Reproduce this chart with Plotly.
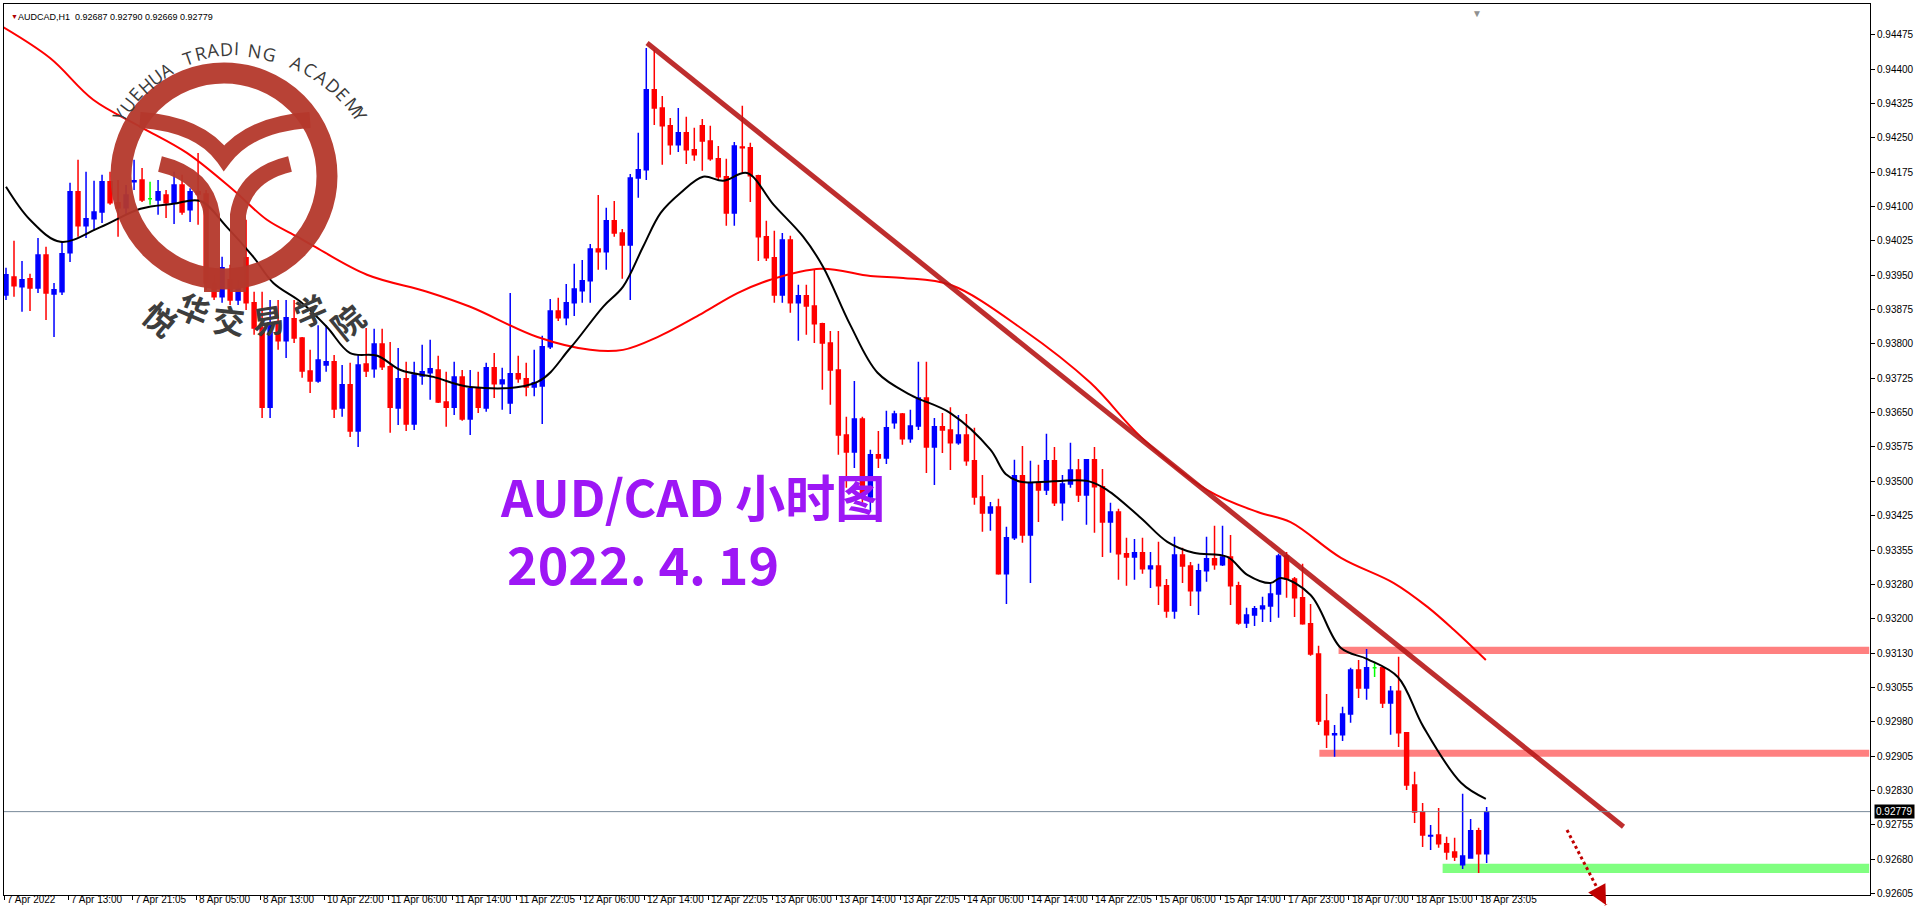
import math
import plotly.graph_objects as go

# AUDCAD H1 candles, prices in 1e-5 units
opens = [93907, 93946, 93925, 93942, 93922, 93994, 93909, 93914, 93999, 94132,
         94058, 94073, 94088, 94154, 94108, 94097, 94154, 94158, 94117, 94114,
         94125, 94108, 94147, 94093, 94132, 94127, 93933, 93903, 93940, 93896,
         93988, 93890, 93835, 93662, 93846, 93807, 93855, 93813, 93741, 93719,
         93754, 93761, 93660, 93711, 93610, 93756, 93746, 93800, 93750, 93660,
         93724, 93625, 93730, 93737, 93743, 93673, 93662, 93728, 93636, 93702,
         93660, 93748, 93713, 93671, 93735, 93724, 93706, 93708, 93794, 93872,
         93857, 93890, 93916, 93938, 94007, 94001, 94069, 94042, 94016, 94162,
         94180, 94355, 94315, 94276, 94235, 94261, 94224, 94276, 94243, 94204,
         94165, 94086, 94230, 94228, 94167, 94034, 93988, 93907, 94027, 93890,
         93905, 93883, 93844, 93802, 93743, 93601, 93564, 93636, 93466, 93558,
         93551, 93628, 93647, 93593, 93621, 93682, 93575, 93619, 93612, 93584,
         93601, 93545, 93466, 93431, 93444, 93298, 93377, 93512, 93383, 93497,
         93481, 93545, 93453, 93494, 93525, 93470, 93547, 93488, 93411, 93433,
         93342, 93335, 93344, 93309, 93315, 93272, 93217, 93339, 93315, 93261,
         93305, 93331, 93318, 93335, 93272, 93191, 93208, 93222, 93228, 93254,
         93337, 93287, 93246, 93189, 93123, 92977, 92947, 92947, 92992, 93088,
         93049, 93093, 93093, 93016, 93042, 92951, 92837, 92778, 92726, 92728,
         92709, 92691, 92663, 92678, 92737, 92687]
highs = [93966, 94025, 93981, 93953, 94031, 94012, 93933, 94023, 94152, 94202,
         94176, 94156, 94169, 94176, 94158, 94147, 94202, 94184, 94154, 94158,
         94136, 94176, 94169, 94140, 94217, 94136, 93951, 93990, 93973, 93940,
         94071, 93914, 93914, 93896, 93896, 93896, 93896, 93815, 93787, 93841,
         93841, 93776, 93754, 93759, 93776, 93835, 93833, 93833, 93804, 93791,
         93761, 93761, 93798, 93809, 93774, 93739, 93761, 93743, 93743, 93739,
         93759, 93780, 93748, 93911, 93774, 93759, 93787, 93818, 93898, 93901,
         93931, 93975, 93983, 94018, 94125, 94097, 94112, 94051, 94171, 94261,
         94446, 94442, 94341, 94293, 94315, 94296, 94272, 94291, 94276, 94232,
         94204, 94241, 94320, 94239, 94169, 94069, 94047, 94042, 94036, 93929,
         93929, 93962, 93846, 93828, 93828, 93641, 93719, 93641, 93569, 93610,
         93654, 93654, 93649, 93656, 93761, 93761, 93638, 93649, 93662, 93645,
         93647, 93617, 93514, 93455, 93462, 93401, 93547, 93577, 93545, 93536,
         93604, 93575, 93514, 93584, 93549, 93549, 93575, 93527, 93453, 93440,
         93377, 93374, 93377, 93346, 93368, 93287, 93379, 93355, 93324, 93320,
         93379, 93403, 93403, 93383, 93281, 93224, 93228, 93248, 93276, 93342,
         93346, 93291, 93320, 93232, 93141, 93036, 92968, 93008, 93093, 93110,
         93134, 93106, 93095, 93053, 93117, 92953, 92866, 92798, 92750, 92787,
         92724, 92722, 92818, 92763, 92744, 92789]
lows = [93896, 93903, 93870, 93872, 93911, 93852, 93815, 93907, 93979, 94034,
        94031, 94049, 94064, 94104, 94034, 94082, 94136, 94110, 94104, 94082,
        94075, 94062, 94082, 94066, 94060, 93918, 93896, 93890, 93885, 93885,
        93874, 93820, 93638, 93638, 93787, 93769, 93802, 93726, 93693, 93715,
        93739, 93638, 93641, 93597, 93575, 93728, 93726, 93743, 93606, 93623,
        93610, 93612, 93711, 93678, 93671, 93619, 93645, 93632, 93601, 93649,
        93652, 93682, 93656, 93647, 93715, 93686, 93686, 93625, 93789, 93850,
        93841, 93861, 93890, 93890, 93962, 93962, 94034, 93942, 93896, 94119,
        94158, 94278, 94191, 94213, 94219, 94193, 94200, 94178, 94200, 94156,
        94058, 94058, 94173, 94110, 93981, 93981, 93890, 93890, 93868, 93807,
        93820, 93802, 93700, 93667, 93558, 93486, 93529, 93453, 93433, 93529,
        93538, 93615, 93580, 93584, 93612, 93518, 93492, 93562, 93525, 93580,
        93534, 93449, 93390, 93392, 93296, 93232, 93372, 93366, 93278, 93411,
        93470, 93446, 93414, 93486, 93455, 93405, 93388, 93335, 93344, 93285,
        93272, 93285, 93298, 93267, 93230, 93202, 93200, 93278, 93228, 93208,
        93281, 93307, 93315, 93230, 93187, 93180, 93184, 93193, 93193, 93202,
        93246, 93204, 93187, 93119, 92968, 92918, 92899, 92933, 92973, 93027,
        93023, 93073, 93005, 92947, 92920, 92826, 92754, 92702, 92695, 92700,
        92674, 92671, 92654, 92678, 92645, 92667]
closes = [93951, 93927, 93940, 93922, 93994, 93911, 93918, 93997, 94132, 94058,
          94073, 94088, 94154, 94108, 94097, 94125, 94156, 94114, 94117, 94132,
          94108, 94147, 94088, 94132, 94127, 93933, 93903, 93966, 93896, 93922,
          93890, 93835, 93662, 93846, 93807, 93857, 93813, 93741, 93719, 93765,
          93761, 93658, 93711, 93610, 93754, 93741, 93800, 93750, 93662, 93724,
          93625, 93732, 93739, 93746, 93673, 93662, 93728, 93636, 93702, 93662,
          93748, 93713, 93721, 93735, 93724, 93706, 93715, 93794, 93872, 93857,
          93890, 93920, 93938, 94007, 94001, 94069, 94042, 94016, 94162, 94180,
          94355, 94315, 94276, 94235, 94261, 94224, 94213, 94243, 94204, 94165,
          94086, 94232, 94228, 94167, 94034, 93988, 93907, 94027, 93890, 93905,
          93883, 93844, 93802, 93743, 93601, 93564, 93636, 93466, 93558, 93551,
          93617, 93647, 93593, 93621, 93682, 93575, 93619, 93612, 93584, 93601,
          93545, 93466, 93431, 93444, 93298, 93377, 93512, 93383, 93497, 93481,
          93545, 93453, 93494, 93525, 93470, 93547, 93488, 93411, 93433, 93342,
          93335, 93344, 93309, 93315, 93272, 93217, 93339, 93315, 93261, 93305,
          93331, 93318, 93335, 93272, 93191, 93208, 93222, 93228, 93254, 93337,
          93287, 93246, 93189, 93123, 92977, 92947, 92949, 92992, 93088, 93049,
          93093, 93093, 93016, 93042, 92951, 92837, 92778, 92728, 92727, 92709,
          92691, 92680, 92682, 92737, 92687, 92779]

# moving averages: (bar index, price)
ma_fast_x = [0, 3, 6.8, 11.8, 16.8, 20.9, 24.3, 27.6, 30.9, 33.4, 36.8, 40.1, 43, 46.4,
             49.3, 53.4, 58, 66.4, 70.5, 74.6, 77.1, 79.6, 81.8, 84.3, 87.1, 89.6, 92.6,
             95.9, 99.6, 102.1, 105.5, 108.9, 113, 118, 123, 124.9, 126.8, 135.1, 137.6,
             141.8, 145.1, 148.4, 152.6, 155.1, 158, 159.3, 163, 166.8, 170.1, 173.9,
             177.1, 181.8, 184.9]
ma_fast_y = [94143, 94071, 94023, 94055, 94095, 94106, 94112, 94055, 93990, 93933, 93892,
             93837, 93780, 93774, 93743, 93728, 93706, 93717, 93791, 93881, 93925, 94012,
             94086, 94130, 94165, 94156, 94173, 94104, 94034, 93968, 93841, 93737, 93689,
             93649, 93569, 93516, 93499, 93501, 93481, 93420, 93368, 93344, 93335, 93296,
             93278, 93289, 93252, 93136, 93112, 93073, 92964, 92842, 92807]
ma_slow_x = [-0.8, 5.5, 10.9, 16.8, 22.6, 28.4, 32.6, 36.4, 38.4, 45.1, 52.6, 58, 66.4,
             73, 77.1, 81.4, 87.1, 91.4, 95.5, 101.8, 108, 112.1, 118, 127.1, 135.5,
             141.8, 150.1, 156.4, 160.5, 166.8, 173.4, 177.6, 180.9, 184.9]
ma_slow_y = [94496, 94424, 94333, 94274, 94217, 94136, 94071, 94034, 94014, 93951, 93914,
             93881, 93815, 93787, 93787, 93815, 93868, 93911, 93940, 93964, 93948, 93944,
             93929, 93831, 93715, 93597, 93481, 93433, 93411, 93333, 93278, 93226, 93176,
             93110]

trend_x = [80.1, 202.1]
trend_y = [0.94457, 0.92746]
zones = [  # (start bar, low, high, colour)
    (166.5, 0.93123, 0.93139, "#FF8080"),
    (164.1, 0.92899, 0.92914, "#FF8080"),
    (179.5, 0.92645, 0.92665, "#80FF80"),
]
bid = 0.92779

x_labels = ["7 Apr 2022", "7 Apr 13:00", "7 Apr 21:05", "8 Apr 05:00", "8 Apr 13:00",
            "10 Apr 22:00", "11 Apr 06:00", "11 Apr 14:00", "11 Apr 22:05", "12 Apr 06:00",
            "12 Apr 14:00", "12 Apr 22:05", "13 Apr 06:00", "13 Apr 14:00", "13 Apr 22:05",
            "14 Apr 06:00", "14 Apr 14:00", "14 Apr 22:05", "15 Apr 06:00", "15 Apr 14:00",
            "17 Apr 23:00", "18 Apr 07:00", "18 Apr 15:00", "18 Apr 23:05"]
y_labels = ["0.94475", "0.94400", "0.94325", "0.94250", "0.94175", "0.94100", "0.94025",
            "0.93950", "0.93875", "0.93800", "0.93725", "0.93650", "0.93575", "0.93500",
            "0.93425", "0.93355", "0.93280", "0.93200", "0.93130", "0.93055", "0.92980",
            "0.92905", "0.92830", "0.92755", "0.92680", "0.92605"]

S = 1e5
o = [v / S for v in opens]
h = [v / S for v in highs]
l = [v / S for v in lows]
c = [v / S for v in closes]
idx = list(range(len(o)))

W, H = 1918, 918
L, R, T, B = 4, 48, 4, 23


def px(x):
    return (x - L) / (W - L - R)


def py(y):
    return (H - B - y) / (H - T - B)


fig = go.Figure()
doji = [i for i in idx if o[i] == c[i]]
rest = [i for i in idx if o[i] != c[i]]
fig.add_trace(go.Candlestick(
    x=rest, open=[o[i] for i in rest], high=[h[i] for i in rest],
    low=[l[i] for i in rest], close=[c[i] for i in rest],
    increasing=dict(line=dict(color="#0000FF", width=1.5), fillcolor="#0000FF"),
    decreasing=dict(line=dict(color="#FF0000", width=1.5), fillcolor="#FF0000"),
    whiskerwidth=0, showlegend=False))
fig.add_trace(go.Candlestick(
    x=doji, open=[o[i] for i in doji], high=[h[i] for i in doji],
    low=[l[i] for i in doji], close=[c[i] for i in doji],
    increasing=dict(line=dict(color="#00FF00", width=1.5)),
    decreasing=dict(line=dict(color="#00FF00", width=1.5)),
    whiskerwidth=0, showlegend=False))
fig.add_trace(go.Scatter(x=ma_slow_x, y=[v / S for v in ma_slow_y], mode="lines",
                         line=dict(color="#FF0000", width=2, shape="spline"), showlegend=False))
fig.add_trace(go.Scatter(x=ma_fast_x, y=[v / S for v in ma_fast_y], mode="lines",
                         line=dict(color="#000000", width=2, shape="spline"), showlegend=False))
fig.add_trace(go.Scatter(x=trend_x, y=trend_y, mode="lines",
                         line=dict(color="#B81818", width=5), opacity=0.9, showlegend=False))

shapes = []
for x0, y0, y1, col in zones:
    shapes.append(dict(type="rect", xref="x", yref="y", x0=x0, x1=232.8, y0=y0, y1=y1,
                       fillcolor=col, line=dict(width=0), layer="below"))
shapes.append(dict(type="line", xref="paper", yref="y", x0=0, x1=1, y0=bid, y1=bid,
                   line=dict(color="#778899", width=1)))

# watermark logo
logo_col = "#B5382C"
shapes.append(dict(type="circle", xref="paper", yref="paper",
                   x0=px(121), x1=px(327), y0=py(279), y1=py(73),
                   line=dict(color=logo_col, width=21), opacity=0.95))


def path(pts):
    s = ""
    for cmd, xs in pts:
        s += cmd + " " + " ".join(
            f"{px(xs[k]):.5f},{py(xs[k + 1]):.5f}" for k in range(0, len(xs), 2)) + " "
    return s


for p in [
    [("M", [140, 120]), ("Q", [200, 124, 224, 158]), ("Q", [250, 124, 310, 120])],
    [("M", [212, 292]), ("L", [212, 215]), ("Q", [206, 175, 160, 164])],
    [("M", [238, 292]), ("L", [238, 215]), ("Q", [244, 175, 290, 164])],
]:
    shapes.append(dict(type="path", xref="paper", yref="paper", path=path(p),
                       line=dict(color=logo_col, width=16), opacity=0.95))

# dotted arrow
shapes.append(dict(type="line", xref="paper", yref="paper",
                   x0=px(1567), y0=py(830), x1=px(1606), y1=py(905),
                   line=dict(color="#C00000", width=3, dash="dot")))

ann = []
cx, cy = 224, 176
title_txt = "YUEHUA TRADING ACADEMY"
for k, ch in enumerate(title_txt):
    if ch == " ":
        continue
    th = -58 + 116 * k / (len(title_txt) - 1)
    r = 142
    x = cx + r * math.sin(math.radians(th))
    y = cy - r * math.cos(math.radians(th))
    ann.append(dict(xref="paper", yref="paper", x=px(x), y=py(y), text=ch, showarrow=False,
                    textangle=th, font=dict(family="Open Sans", size=18, color="#3a3a3a")))
for ch, (x, y) in zip("悦华交易学院", [(131, 287), (168, 308), (208, 319), (246, 319),
                                     (283, 310), (317, 290)]):
    ang = -math.degrees(math.atan2(x - cx, y - cy))
    ann.append(dict(xref="paper", yref="paper", x=px(x), y=py(y), text="<b>" + ch + "</b>",
                    showarrow=False, textangle=ang,
                    font=dict(family="Noto Sans CJK SC", size=32, color="#3d3d3d")))

ann.append(dict(xref="paper", yref="paper", x=px(692), y=py(495), text="<b>AUD/CAD 小时图</b>",
                showarrow=False, font=dict(family="Noto Sans CJK SC", size=50, color="#9D17F5")))
ann.append(dict(xref="paper", yref="paper", x=px(643), y=py(563), text="<b>2022. 4. 19</b>",
                showarrow=False, font=dict(family="Noto Sans CJK SC", size=52, color="#9D17F5")))

ann.append(dict(xref="paper", yref="paper", x=px(16), y=py(10), xanchor="left",
                text="AUDCAD,H1  0.92687 0.92790 0.92669 0.92779", showarrow=False,
                font=dict(family="Liberation Sans", size=9, color="#000000")))
ann.append(dict(xref="paper", yref="paper", x=px(9), y=py(10), text="▼", showarrow=False,
                font=dict(size=7, color="#B00000")))
ann.append(dict(xref="paper", yref="paper", x=px(1484), y=1.0, yanchor="top", text="▼",
                showarrow=False, font=dict(size=10, color="#909090")))
ann.append(dict(xref="paper", yref="paper", x=px(1606), y=py(905), ax=-8, ay=-15,
                text="", showarrow=True, arrowhead=2,
                arrowsize=1.3, arrowwidth=3, arrowcolor="#C00000"))
ann.append(dict(xref="paper", yref="y", x=1.0, y=bid, xanchor="left", xshift=4,
                text="0.92779", showarrow=False, bgcolor="#000000", borderpad=1,
                font=dict(family="Liberation Sans", size=10, color="#FFFFFF")))

x_ticks = [8 * k - 0.25 for k in range(len(x_labels))]
for xv, txt in zip(x_ticks, x_labels):
    ann.append(dict(xref="x", yref="paper", x=xv, y=py(907), xanchor="left", xshift=1,
                    text=txt, showarrow=False,
                    font=dict(family="Liberation Sans", size=10, color="#000000")))

fig.update_layout(
    width=W, height=H, margin=dict(l=L, r=R, t=T, b=B),
    plot_bgcolor="#FFFFFF", paper_bgcolor="#FFFFFF",
    shapes=shapes, annotations=ann,
    xaxis=dict(range=[-0.25, 232.9], rangeslider=dict(visible=False), showgrid=False,
               zeroline=False, showline=True, linecolor="#000000", mirror=True,
               tickvals=x_ticks, ticks="outside", ticklen=4, tickcolor="#000000",
               showticklabels=False),
    yaxis=dict(range=[0.92597, 0.94542], side="right", showgrid=False, zeroline=False,
               showline=True, linecolor="#000000", mirror=True,
               tickvals=[0.94475 - 0.00075 * k for k in range(len(y_labels))],
               ticktext=y_labels, ticks="outside", ticklen=4, tickcolor="#000000",
               tickfont=dict(family="Liberation Sans", size=10, color="#000000")),
)

fig.write_html("out.html", config={"displayModeBar": False},
               post_script="document.body.style.margin='0';document.body.style.overflow='hidden';")
